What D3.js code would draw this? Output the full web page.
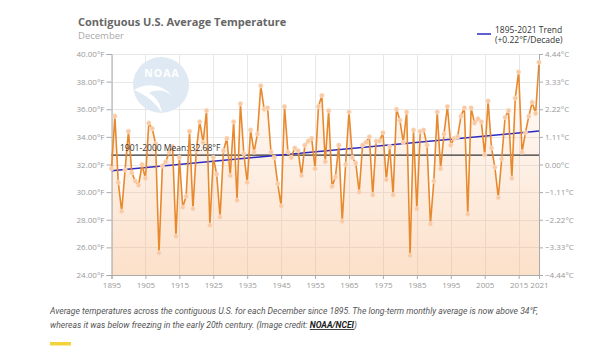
<!DOCTYPE html>
<html>
<head>
<meta charset="utf-8">
<script src="https://cdn.jsdelivr.net/npm/d3@7"></script>
<style>
  body { margin: 0; background: #fff; }
  svg { display: block; }
</style>
</head>
<body>
<div id="chart"></div>
<script>
// December average temperature, contiguous U.S., °F
const firstYear = 1895;
const temps = [
  31.7, 35.5, 30.7, 28.6, 31.6, 34.4, 31.4, 30.8, 30.5, 32.0,   // 1895-1904
  31.0, 35.0, 34.6, 33.5, 25.6, 31.9, 32.2, 32.9, 33.3, 26.8,   // 1905-1914
  32.5, 28.9, 29.7, 34.4, 28.8, 33.0, 35.1, 33.6, 35.9, 27.6,   // 1915-1924
  32.5, 31.3, 28.2, 33.0, 33.9, 31.2, 35.1, 29.4, 36.4, 32.8,   // 1925-1934
  30.7, 34.5, 32.9, 34.2, 37.7, 36.0, 36.1, 32.9, 32.5, 30.6,   // 1935-1944
  29.0, 36.2, 32.9, 32.5, 33.2, 33.0, 31.2, 33.4, 33.7, 33.9,   // 1945-1954
  31.7, 36.2, 37.0, 32.2, 35.9, 30.4, 31.1, 33.4, 27.9, 32.0,   // 1955-1964
  35.8, 32.5, 32.1, 30.0, 33.4, 33.6, 34.0, 29.8, 33.7, 33.7,   // 1965-1974
  34.3, 30.9, 33.3, 29.8, 36.0, 35.2, 33.6, 35.8, 25.4, 34.5,   // 1975-1984
  28.8, 34.4, 34.5, 33.4, 27.7, 30.8, 35.8, 31.7, 34.2, 36.2,   // 1985-1994
  33.4, 33.9, 34.0, 35.5, 36.1, 28.4, 36.1, 35.0, 35.3, 35.1,   // 1995-2004
  32.7, 36.6, 33.2, 31.8, 29.6, 32.4, 35.4, 35.9, 31.0, 36.8,   // 2005-2014
  38.7, 32.9, 34.3, 35.5, 36.5, 35.7, 39.4                      // 2015-2021
];
const years = temps.map((d, i) => firstYear + i);

const xTicks = [1895, 1905, 1915, 1925, 1935, 1945, 1955, 1965, 1975, 1985, 1995, 2005, 2015, 2021];
const fTicks = [24, 26, 28, 30, 32, 34, 36, 38, 40];
const cTicks = [-4.44, -3.33, -2.22, -1.11, 0, 1.11, 2.22, 3.33, 4.44];

const meanValue = 32.68;
const meanLabel = "1901-2000 Mean: 32.68°F";
const trendEnds = [31.55, 34.42];   // trend value at 1895 and 2021
const legendLines = ["1895-2021 Trend", "(+0.22°F/Decade)"];

const title = "Contiguous U.S. Average Temperature";
const subtitle = "December";
const captionLine1 = "Average temperatures across the contiguous U.S. for each December since 1895. The long-term monthly average is now above 34°F,";
const captionLine2 = "whereas it was below freezing in the early 20th century. (Image credit: ";
const creditText = "NOAA/NCEI";

// Dimensions
const width = 600;
const height = 350;
const plotLeft = 111.5;
const plotRight = 539;
const plotTop = 54;
const plotBottom = 275;

const x = d3.scaleLinear()
    .domain([firstYear, 2021])
    .range([plotLeft, plotRight]);

const y = d3.scaleLinear()
    .domain([24, 40])
    .range([plotBottom, plotTop]);

const yC = d3.scaleLinear()
    .domain([-4.44, 4.44])
    .range([plotBottom, plotTop]);

const svg = d3.select("#chart")
  .append("svg")
    .attr("width", width)
    .attr("height", height)
    .attr("viewBox", [0, 0, width, height])
    .style("font-family", "'Open Sans', sans-serif");

// Gradient for the area under the line
const defs = svg.append("defs");
const grad = defs.append("linearGradient")
    .attr("id", "areaGrad")
    .attr("gradientUnits", "userSpaceOnUse")
    .attr("x1", 0).attr("x2", 0)
    .attr("y1", plotTop).attr("y2", plotBottom);
grad.append("stop").attr("offset", 0).attr("stop-color", "#f7b27a").attr("stop-opacity", 0.0);
grad.append("stop").attr("offset", 1).attr("stop-color", "#f7b27a").attr("stop-opacity", 0.4);

// Title
svg.append("text")
    .attr("x", 78).attr("y", 26)
    .attr("fill", "#666")
    .attr("font-size", 11)
    .attr("font-weight", "bold")
    .text(title);

svg.append("text")
    .attr("x", 78).attr("y", 39)
    .attr("fill", "#aaa")
    .attr("font-size", 9.5)
    .text(subtitle);

// Grid
svg.append("g")
    .attr("stroke", "#e8e8e8")
    .attr("stroke-width", 1)
    .call(g => g.selectAll("line.h")
      .data(fTicks)
      .join("line")
        .attr("x1", plotLeft).attr("x2", plotRight)
        .attr("y1", d => Math.round(y(d)) + 0.5)
        .attr("y2", d => Math.round(y(d)) + 0.5))
    .call(g => g.selectAll("line.v")
      .data(xTicks)
      .join("line")
        .attr("x1", d => Math.round(x(d)) + 0.5)
        .attr("x2", d => Math.round(x(d)) + 0.5)
        .attr("y1", plotTop).attr("y2", plotBottom));

// NOAA watermark
const logo = svg.append("g");
logo.append("circle")
    .attr("cx", 161).attr("cy", 85).attr("r", 28)
    .attr("fill", "#dfe9f3");
logo.append("path")
    .attr("d", "M134,90 C146,82 163,84 172,96 C165,90 157,89 149,93 C156,97 161,104 162,113 C155,102 146,95 134,90 Z")
    .attr("fill", "#fff");
logo.append("text")
    .attr("x", 162).attr("y", 77)
    .attr("text-anchor", "middle")
    .attr("fill", "#fff")
    .attr("font-size", 10.5)
    .attr("font-weight", "bold")
    .attr("letter-spacing", 1)
    .text("NOAA");

// Area under the series
const area = d3.area()
    .x((d, i) => x(years[i]))
    .y0(plotBottom)
    .y1(d => y(d));

svg.append("path")
    .datum(temps)
    .attr("fill", "url(#areaGrad)")
    .attr("d", area);

// Left axis (°F)
svg.append("g")
    .attr("transform", `translate(${plotLeft},0)`)
    .call(d3.axisLeft(y).tickValues(fTicks).tickSize(5).tickPadding(2)
      .tickFormat(d => d3.format(".2f")(d) + "°F"))
    .call(g => g.select(".domain").attr("stroke", "#aaa"))
    .call(g => g.selectAll(".tick line").attr("stroke", "#aaa"))
    .call(g => g.selectAll(".tick text").attr("fill", "#999").attr("font-size", 8).attr("font-family", "'Open Sans', sans-serif"));

// Right axis (°C)
svg.append("g")
    .attr("transform", `translate(${plotRight},0)`)
    .call(d3.axisRight(yC).tickValues(cTicks).tickSize(4).tickPadding(2)
      .tickFormat(d => d3.format(".2f")(d) + "°C"))
    .call(g => g.select(".domain").attr("stroke", "#aaa"))
    .call(g => g.selectAll(".tick line").attr("stroke", "#aaa"))
    .call(g => g.selectAll(".tick text").attr("fill", "#999").attr("font-size", 8).attr("font-family", "'Open Sans', sans-serif"));

// Bottom axis
svg.append("g")
    .attr("transform", `translate(0,${plotBottom})`)
    .call(d3.axisBottom(x).tickValues(xTicks).tickSize(4).tickPadding(3).tickFormat(d3.format("d")))
    .call(g => g.select(".domain").attr("stroke", "#aaa"))
    .call(g => g.selectAll(".tick line").attr("stroke", "#aaa"))
    .call(g => g.selectAll(".tick text").attr("fill", "#999").attr("font-size", 8).attr("font-family", "'Open Sans', sans-serif"));

// Mean line
svg.append("line")
    .attr("x1", plotLeft).attr("x2", plotRight)
    .attr("y1", y(meanValue)).attr("y2", y(meanValue))
    .attr("stroke", "#333")
    .attr("stroke-width", 1.3);

// Trend line
svg.append("line")
    .attr("x1", x(firstYear)).attr("x2", x(2021))
    .attr("y1", y(trendEnds[0])).attr("y2", y(trendEnds[1]))
    .attr("stroke", "#2b2bc4")
    .attr("stroke-width", 1.5);

// Data line
const line = d3.line()
    .x((d, i) => x(years[i]))
    .y(d => y(d));

svg.append("path")
    .datum(temps)
    .attr("fill", "none")
    .attr("stroke", "#e8892e")
    .attr("stroke-width", 1.6)
    .attr("d", line);

svg.append("g")
    .attr("fill", "#f8c9a2")
    .attr("stroke", "#fbe3cf")
    .attr("stroke-width", 0.6)
  .selectAll("circle")
  .data(temps)
  .join("circle")
    .attr("cx", (d, i) => x(years[i]))
    .attr("cy", d => y(d))
    .attr("r", 2.3);

// Mean label sits on top of the series
svg.append("text")
    .attr("x", 120).attr("y", y(meanValue) - 4)
    .attr("fill", "#333")
    .attr("font-size", 8.5)
    .text(meanLabel);

// Legend
svg.append("line")
    .attr("x1", 477).attr("x2", 491)
    .attr("y1", 34).attr("y2", 34)
    .attr("stroke", "#2b2bc4")
    .attr("stroke-width", 1.5);

svg.append("g")
    .attr("fill", "#333")
    .attr("font-size", 8.5)
  .selectAll("text")
  .data(legendLines)
  .join("text")
    .attr("x", 495)
    .attr("y", (d, i) => 33 + i * 10)
    .text(d => d);

// Caption
const caption = svg.append("g")
    .attr("font-family", "Roboto, sans-serif")
    .attr("font-size", 8.6)
    .attr("font-style", "italic")
    .attr("fill", "#555");

caption.append("text")
    .attr("x", 50).attr("y", 314)
    .text(captionLine1);

const line2 = caption.append("text")
    .attr("x", 50).attr("y", 328);
line2.append("tspan").text(captionLine2);
line2.append("tspan")
    .attr("font-weight", "bold")
    .attr("fill", "#222")
    .attr("text-decoration", "underline")
    .text(creditText);
line2.append("tspan").text(")");

svg.append("rect")
    .attr("x", 50).attr("y", 342)
    .attr("width", 21).attr("height", 3.5)
    .attr("fill", "#f4d23c");
</script>
</body>
</html>
